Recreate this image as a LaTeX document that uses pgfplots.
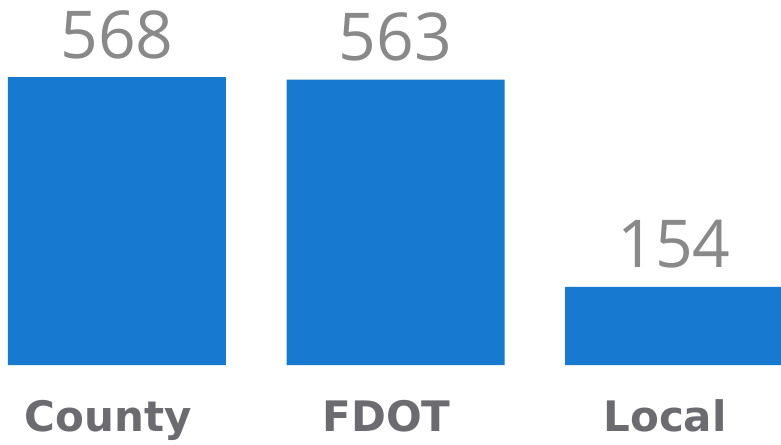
\documentclass[border=0pt]{standalone}
\usepackage{fontspec}
\setmainfont{Open Sans}
\newfontfamily\catfont{DejaVu Sans}
\usepackage{pgfplots}
\pgfplotsset{compat=1.18}
\definecolor{barblue}{HTML}{1779D0}
\definecolor{valgray}{HTML}{898989}
\definecolor{catgray}{HTML}{6B6B70}
\begin{document}
\begin{tikzpicture}
\begin{axis}[
  name=ax,
  scale only axis,
  width=781pt, height=365pt,
  xmin=-0.420, xmax=2.384,
  ymin=0, ymax=720,
  clip=false,
  axis line style={draw=none},
  tick style={draw=none},
  ytick=\empty,
  xtick={0,1,2},
  xticklabels={County,FDOT,Local},
  xticklabel style={font=\catfont\bfseries\fontsize{42}{50}\selectfont, text=catgray, anchor=base, yshift=-66pt, xshift=-9pt},
  /pgf/number format/assume math mode=true,
  nodes near coords,
  every node near coord/.append style={font=\fontsize{66}{70}\selectfont, text=valgray, anchor=base, yshift=19pt},
]
\addplot[ybar, bar width=218pt, fill=barblue, draw=none] coordinates {(0,568) (1,563) (2,154)};
\coordinate (bl) at (rel axis cs:0,0);
\coordinate (tr) at (rel axis cs:1,1);
\end{axis}
\pgfresetboundingbox
\useasboundingbox (bl) ++(0,-79pt) rectangle (tr);
\end{tikzpicture}
\end{document}
